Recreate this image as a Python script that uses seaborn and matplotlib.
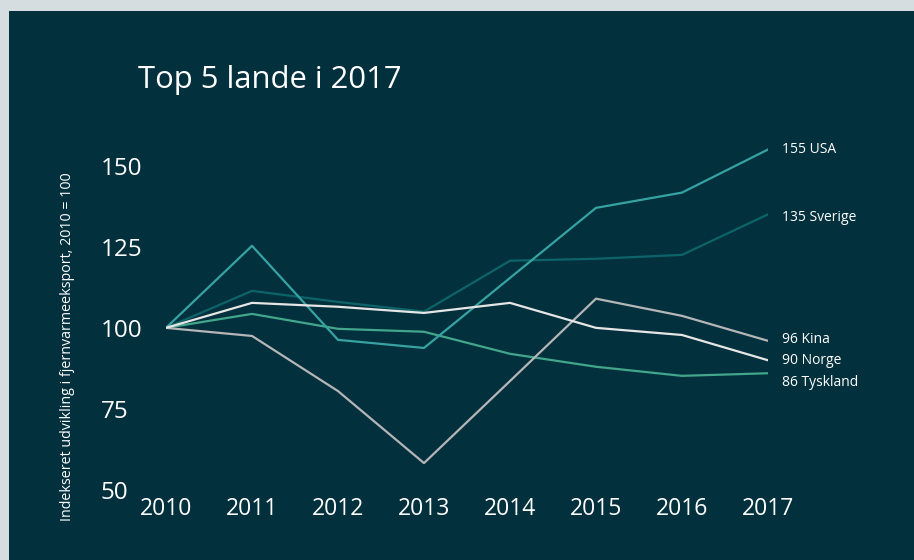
import pandas as pd
import matplotlib.pyplot as plt
import seaborn as sns
from matplotlib.patches import Rectangle

# Data (index, 2010 = 100)
years = [2010, 2011, 2012, 2013, 2014, 2015, 2016, 2017]
usa = [100, 125.3, 96.3, 93.8, 115.4, 137, 141.7, 155]
sverige = [100, 111.4, 108, 105, 120.7, 121.3, 122.5, 135]
kina = [100, 97.5, 80.5, 58.3, 83.6, 109, 103.7, 96]
norge = [100, 107.7, 106.5, 104.6, 107.7, 100, 97.8, 90]
tyskland = [100, 104.3, 99.7, 98.8, 92, 88, 85.2, 86]

countries = ["USA", "Sverige", "Kina", "Norge", "Tyskland"]
series = [usa, sverige, kina, norge, tyskland]
yticks = [50, 75, 100, 125, 150]

colors = {
    "USA": "#36a3a3",
    "Sverige": "#0c6469",
    "Kina": "#b4b6b7",
    "Norge": "#e6e6e6",
    "Tyskland": "#42a68b",
}

df = pd.DataFrame({
    "year": years * len(countries),
    "index": [v for s in series for v in s],
    "country": [c for c in countries for _ in years],
})

bg = "#03303d"
sns.set_theme(style="white")
plt.rcParams['font.family'] = ['Open Sans', 'DejaVu Sans']

fig = plt.figure(figsize=(9.14, 5.6), dpi=100, facecolor="#d5dde0")
fig.patches.append(Rectangle((9 / 914, 0), 1, 1 - 11 / 560, transform=fig.transFigure,
                             facecolor=bg, edgecolor="none", zorder=-10))

ax = fig.add_axes([166 / 914, 70 / 560, 602 / 914, 347 / 560])
ax.set_facecolor(bg)
ax.patch.set_alpha(0)

sns.lineplot(data=df, x="year", y="index", hue="country", palette=colors,
             hue_order=["Sverige", "Tyskland", "Kina", "USA", "Norge"],
             linewidth=1.6, legend=False, ax=ax)

ax.set_xlim(2010, 2017)
ax.set_ylim(50, 157)
ax.set_xticks(years)
ax.set_xticklabels([str(y) for y in years])
ax.set_yticks(yticks)
ax.set_yticklabels([str(t) for t in yticks])
for lbl in ax.get_yticklabels():
    lbl.set_horizontalalignment("left")
ax.tick_params(axis="y", length=0, pad=47, labelsize=17.5, labelcolor="white")
ax.tick_params(axis="x", length=0, pad=5, labelsize=16.5, labelcolor="white")
ax.set_xlabel("")
ax.set_ylabel("")
sns.despine(ax=ax, left=True, bottom=True)

# end labels
offsets = {"USA": 0, "Sverige": -2, "Kina": 1, "Norge": 0, "Tyskland": -7}
for c, s in zip(countries, series):
    ax.annotate(f"{s[-1]:.0f} {c}", xy=(years[-1], s[-1]), xytext=(10, offsets[c]),
                textcoords="offset points", va="center", ha="left",
                fontsize=10, color="white", annotation_clip=False)

fig.text(138 / 914, 1 - 80 / 560, "Top 5 lande i 2017", fontsize=22.3, color="white",
         va="center", ha="left")
fig.text(68 / 914, 1 - 347 / 560, "Indekseret udvikling i fjernvarmeeksport, 2010 = 100",
         rotation=90, fontsize=10.3, color="white", va="center", ha="center")

fig.savefig("out.png", dpi=100, facecolor=fig.get_facecolor())
